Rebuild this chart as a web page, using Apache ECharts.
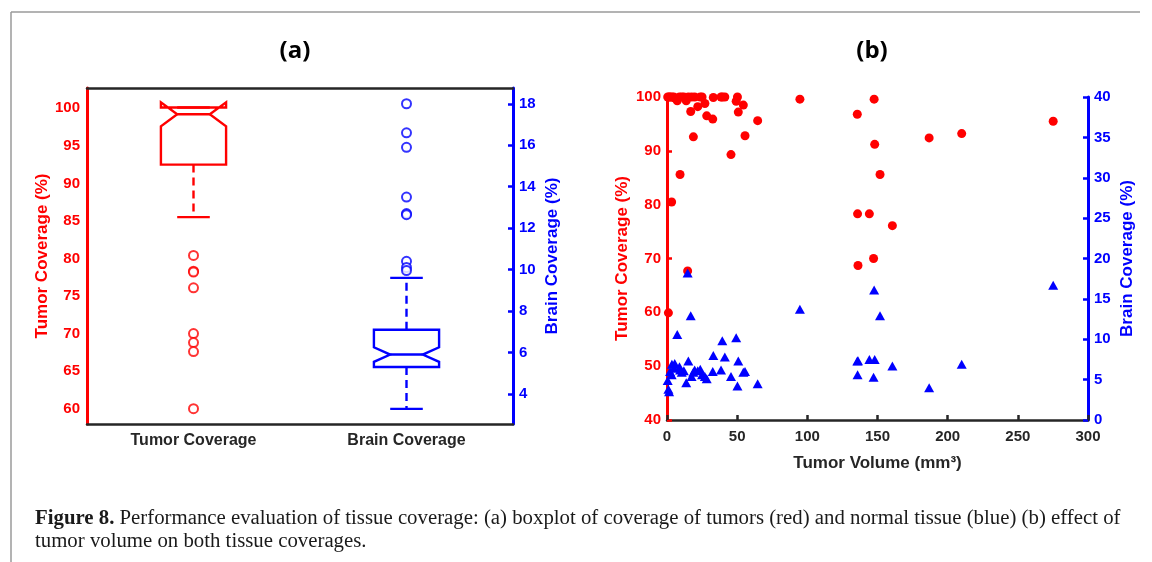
<!DOCTYPE html>
<html>
<head>
<meta charset="utf-8">
<script src="https://cdn.jsdelivr.net/npm/echarts@6/dist/echarts.min.js"></script>
<style>
html, body { margin: 0; padding: 0; background: #fff; }
#chart { width: 1152px; height: 562px; }
</style>
</head>
<body>
<div id="chart"></div>
<script>
// ---- panel (a): boxplot stats ----
const boxCategories = ['Tumor Coverage', 'Brain Coverage']
// [category, lowWhisker, q1, notchLow, median, notchHigh, q3, highWhisker]
const tumorBox = [0, 85.5, 92.5, 97.6, 99.2, 100.8, 100.1, 100.1]
const brainBox = [1, 3.28, 5.3, 5.55, 5.9, 6.25, 7.1, 9.6]
const tumorOutliers = [80.4, 78.3, 78.2, 76.1, 70.0, 68.8, 67.6, 60.0]
const brainOutliers = [18.0, 16.6, 15.9, 13.5, 12.7, 12.65, 10.4, 10.1, 9.95]
const tumorTicksA = [60, 65, 70, 75, 80, 85, 90, 95, 100]
const brainTicksA = [4, 6, 8, 10, 12, 14, 16, 18]

// ---- panel (b): per tumor ----
const tumorVolume = [0.5, 1.0, 1.5, 2.2, 3.3, 3.5, 4.8, 5.5, 7.3, 9.3,
  8.9, 10.5, 12.0, 13.7, 14.7, 15.2, 16.9, 17.5, 18.8, 19.7,
  21.9, 23.7, 25.0, 27.0, 28.3, 32.6, 33.0, 38.5, 39.4, 41.2,
  45.6, 49.3, 50.8, 50.2, 54.4, 55.6, 64.6, 94.7, 135.6, 135.8,
  136.1, 144.2, 147.2, 147.6, 148.0, 151.8, 160.6, 186.8, 210.0, 275.2]
const tumorCoverage = [100, 59.9, 100, 100, 80.5, 100, 100, 99.8, 99.3, 85.6,
  100, 100, 100, 99.3, 67.7, 100, 97.3, 100, 92.6, 100,
  98.2, 100, 100, 98.8, 96.5, 95.9, 99.9, 100, 100, 100,
  89.3, 99.2, 97.2, 100, 98.5, 92.8, 95.6, 99.6, 96.8, 78.3,
  68.7, 78.3, 70.0, 99.6, 91.2, 85.6, 76.1, 92.4, 93.2, 95.5]
const brainCoverage = [4.9, 3.8, 3.5, 6.0, 5.6, 6.9, 6.4, 7.0, 10.6, 6.2,
  6.6, 5.9, 6.1, 4.6, 18.2, 7.3, 12.9, 5.4, 5.9, 6.2,
  6.1, 6.3, 5.6, 5.4, 5.1, 6.0, 8.0, 6.2, 9.8, 7.8,
  5.4, 10.2, 7.3, 4.2, 5.9, 6.0, 4.5, 13.7, 7.3, 5.6,
  7.35, 7.5, 5.3, 16.1, 7.5, 12.9, 6.7, 4.0, 6.9, 16.7]

const RED = '#ff0000'
const BLUE = '#0000ff'
const DARK = '#262626'
const FONT = 'Liberation Sans, Arial, sans-serif'

const chart = echarts.init(document.getElementById('chart'), null, { renderer: 'canvas' })

// notched box like matlab's boxplot('notch','on')
const notchBox = (color) => (params, api) => {
  const v = (i) => api.value(i)
  const lo = v(1), q1 = v(2), nlo = v(3), med = v(4), nhi = v(5), q3 = v(6), hi = v(7)
  const cx = api.coord([v(0), med])[0]
  const y = (val) => api.coord([v(0), val])[1]
  const hw = api.size([1, 0])[0] * 0.153
  const L = cx - hw, R = cx + hw, iL = cx - hw / 2, iR = cx + hw / 2
  const solid = { stroke: color, lineWidth: 2.4, fill: null }
  const dashed = { stroke: color, lineWidth: 2.4, lineDash: [8, 5], fill: null }
  return {
    type: 'group',
    children: [
      {
        type: 'polygon',
        shape: {
          points: [[L, y(q1)], [L, y(nlo)], [iL, y(med)], [L, y(nhi)], [L, y(q3)],
            [R, y(q3)], [R, y(nhi)], [iR, y(med)], [R, y(nlo)], [R, y(q1)]]
        },
        style: solid
      },
      { type: 'line', shape: { x1: iL, y1: y(med), x2: iR, y2: y(med) }, style: solid },
      { type: 'line', shape: { x1: cx, y1: y(q3), x2: cx, y2: y(hi) }, style: dashed },
      { type: 'line', shape: { x1: cx, y1: y(q1), x2: cx, y2: y(lo) }, style: dashed },
      { type: 'line', shape: { x1: iL, y1: y(hi), x2: iR, y2: y(hi) }, style: solid },
      { type: 'line', shape: { x1: iL, y1: y(lo), x2: iR, y2: y(lo) }, style: solid }
    ]
  }
}

const labelStyle = (color, size) => ({ color: color, fontWeight: 'bold', fontSize: size || 15, fontFamily: FONT })
const nameStyle = (color) => ({ color: color, fontWeight: 'bold', fontSize: 17, fontFamily: FONT })

const option = {
  animation: false,
  backgroundColor: '#fff',
  grid: [
    { left: 87, top: 88, width: 426, height: 336 },
    { left: 667, top: 97, width: 421, height: 323 }
  ],
  xAxis: [
    {
      gridIndex: 0,
      type: 'category',
      data: boxCategories,
      position: 'bottom',
      axisLine: { lineStyle: { color: DARK, width: 2.5 } },
      axisTick: { inside: true, alignWithLabel: true, length: 5, lineStyle: { color: DARK, width: 2.5 } },
      axisLabel: Object.assign(labelStyle(DARK, 16), { margin: 9 }),
      splitLine: { show: false }
    },
    {
      gridIndex: 0,
      type: 'category',
      data: boxCategories,
      position: 'top',
      axisLine: { lineStyle: { color: DARK, width: 2.5 } },
      axisTick: { inside: true, alignWithLabel: true, length: 5, lineStyle: { color: DARK, width: 2.5 } },
      axisLabel: { show: false },
      splitLine: { show: false }
    },
    {
      gridIndex: 1,
      type: 'value',
      min: 0,
      max: 300,
      interval: 50,
      axisLine: { onZero: false, lineStyle: { color: DARK, width: 2.5 } },
      axisTick: { inside: true, length: 5, lineStyle: { color: DARK, width: 2.5 } },
      axisLabel: Object.assign(labelStyle(DARK), { margin: 9 }),
      splitLine: { show: false },
      name: 'Tumor Volume (mm³)',
      nameLocation: 'middle',
      nameGap: 35,
      nameTextStyle: nameStyle(DARK)
    }
  ],
  yAxis: [
    {
      gridIndex: 0,
      type: 'value',
      position: 'left',
      min: 57.96,
      max: 102.7,
      axisLine: { show: true, lineStyle: { color: RED, width: 3 } },
      axisTick: { show: false },
      axisLabel: Object.assign(labelStyle(RED), { margin: 7, customValues: tumorTicksA }),
      splitLine: { show: false },
      name: 'Tumor Coverage (%)',
      nameLocation: 'middle',
      nameGap: 36,
      nameTextStyle: nameStyle(RED)
    },
    {
      gridIndex: 0,
      type: 'value',
      position: 'right',
      min: 2.55,
      max: 18.76,
      axisLine: { show: true, lineStyle: { color: BLUE, width: 3 } },
      axisTick: { show: true, inside: true, length: 5, customValues: brainTicksA, lineStyle: { color: BLUE, width: 2.5 } },
      axisLabel: Object.assign(labelStyle(BLUE), { margin: 6, customValues: brainTicksA }),
      splitLine: { show: false },
      name: 'Brain Coverage (%)',
      nameLocation: 'middle',
      nameGap: 31,
      nameTextStyle: nameStyle(BLUE)
    },
    {
      gridIndex: 1,
      type: 'value',
      position: 'left',
      min: 40,
      max: 100,
      interval: 10,
      axisLine: { show: true, lineStyle: { color: RED, width: 3 } },
      axisTick: { show: true, inside: true, length: 5, lineStyle: { color: RED, width: 2.5 } },
      axisLabel: Object.assign(labelStyle(RED), { margin: 6 }),
      splitLine: { show: false },
      name: 'Tumor Coverage (%)',
      nameLocation: 'middle',
      nameGap: 36,
      nameTextStyle: nameStyle(RED)
    },
    {
      gridIndex: 1,
      type: 'value',
      position: 'right',
      min: 0,
      max: 40,
      interval: 5,
      axisLine: { show: true, lineStyle: { color: BLUE, width: 3 } },
      axisTick: { show: true, inside: true, length: 5, lineStyle: { color: BLUE, width: 2.5 } },
      axisLabel: Object.assign(labelStyle(BLUE), { margin: 6 }),
      splitLine: { show: false },
      name: 'Brain Coverage (%)',
      nameLocation: 'middle',
      nameGap: 31,
      nameTextStyle: nameStyle(BLUE)
    }
  ],
  series: [
    {
      type: 'custom',
      xAxisIndex: 0,
      yAxisIndex: 0,
      renderItem: notchBox(RED),
      encode: { x: 0, y: [1, 2, 3, 4, 5, 6, 7] },
      data: [tumorBox],
      z: 3
    },
    {
      type: 'custom',
      xAxisIndex: 0,
      yAxisIndex: 1,
      renderItem: notchBox(BLUE),
      encode: { x: 0, y: [1, 2, 3, 4, 5, 6, 7] },
      data: [brainBox],
      z: 3
    },
    {
      type: 'scatter',
      xAxisIndex: 0,
      yAxisIndex: 0,
      symbol: 'emptyCircle',
      symbolSize: 9,
      itemStyle: { color: RED, borderWidth: 2.6 },
      data: tumorOutliers.map((v) => [0, v]),
      z: 4
    },
    {
      type: 'scatter',
      xAxisIndex: 0,
      yAxisIndex: 1,
      symbol: 'emptyCircle',
      symbolSize: 9,
      itemStyle: { color: BLUE, borderWidth: 2.6 },
      data: brainOutliers.map((v) => [1, v]),
      z: 4
    },
    {
      type: 'scatter',
      xAxisIndex: 2,
      yAxisIndex: 2,
      symbol: 'circle',
      symbolSize: 9,
      itemStyle: { color: RED, opacity: 1 },
      data: tumorVolume.map((x, i) => [x, tumorCoverage[i]]),
      z: 4
    },
    {
      type: 'scatter',
      xAxisIndex: 2,
      yAxisIndex: 3,
      symbol: 'triangle',
      symbolSize: [10, 9],
      itemStyle: { color: BLUE, opacity: 1 },
      data: tumorVolume.map((x, i) => [x, brainCoverage[i]]),
      z: 5
    }
  ],
  graphic: [
    { type: 'line', shape: { x1: 11, y1: 12, x2: 1140, y2: 12 }, style: { stroke: '#9a9a9a', lineWidth: 1.5 } },
    { type: 'line', shape: { x1: 11, y1: 12, x2: 11, y2: 562 }, style: { stroke: '#9a9a9a', lineWidth: 1.5 } },
    {
      type: 'text', x: 295, y: 51,
      style: { text: '(a)', fill: '#000', font: 'bold 24px "Open Sans", sans-serif', align: 'center', verticalAlign: 'middle' }
    },
    {
      type: 'text', x: 872, y: 51,
      style: { text: '(b)', fill: '#000', font: 'bold 24px "Open Sans", sans-serif', align: 'center', verticalAlign: 'middle' }
    },
    {
      type: 'text', x: 35, y: 507,
      style: {
        text: '{b|Figure 8.} Performance evaluation of tissue coverage: (a) boxplot of coverage of tumors (red) and normal tissue (blue) (b) effect of\ntumor volume on both tissue coverages.',
        fill: '#1a1a1a',
        font: '20.8px "Liberation Serif", serif',
        lineHeight: 23,
        rich: {
          b: { font: 'bold 20.8px "Liberation Serif", serif', fill: '#1a1a1a', lineHeight: 23 }
        }
      }
    }
  ]
}

chart.setOption(option)
</script>
</body>
</html>
